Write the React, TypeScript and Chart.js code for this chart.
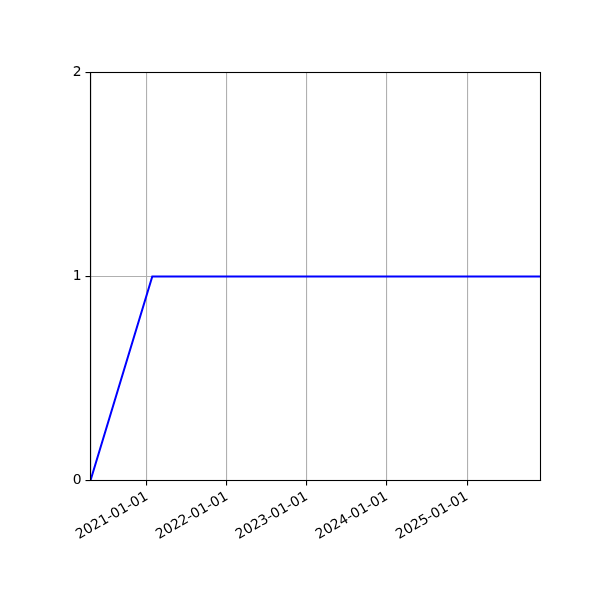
import React, { useEffect, useRef } from "react";
import { Chart, registerables } from "chart.js";

Chart.register(...registerables);

const dates = ["2020-04-18", "2021-01-25", "2025-12-02"];
const values = [0, 1, 1];
const tickYears = [2021, 2022, 2023, 2024, 2025];
const yTicks = [0, 1, 2];
const xMinDate = "2020-04-18";
const xMaxDate = "2025-12-02";

const toMs = (s: string) => Date.parse(s + "T00:00:00Z");

const framePlugin = {
  id: "frame",
  afterDraw(chart: any) {
    const { ctx, chartArea } = chart;
    ctx.save();
    ctx.strokeStyle = "#000";
    ctx.lineWidth = 1.1;
    ctx.strokeRect(chartArea.left, chartArea.top, chartArea.right - chartArea.left, chartArea.bottom - chartArea.top);
    ctx.restore();
  },
};

export default function App() {
  const ref = useRef<HTMLCanvasElement>(null);
  useEffect(() => {
    document.body.style.margin = "0";
    const font = { family: "DejaVu Sans", size: 13.9 };
    const chart = new Chart(ref.current!, {
      type: "line",
      data: {
        datasets: [
          {
            data: dates.map((d, i) => ({ x: toMs(d), y: values[i] })),
            borderColor: "#0000ff",
            borderWidth: 2,
            pointRadius: 0,
            tension: 0,
            fill: false,
          },
        ],
      },
      options: {
        animation: false,
        responsive: false,
        devicePixelRatio: 1,
        layout: { padding: { left: 0, right: 59.5, top: 72.5, bottom: 0 } },
        plugins: { legend: { display: false }, tooltip: { enabled: false } },
        scales: {
          x: {
            type: "linear",
            min: toMs(xMinDate),
            max: toMs(xMaxDate),
            afterBuildTicks: (scale: any) => {
              scale.ticks = tickYears.map((y) => ({ value: Date.UTC(y, 0, 1) }));
            },
            afterFit: (scale: any) => {
              scale.height = 119.5;
            },
            ticks: {
              autoSkip: false,
              minRotation: 30,
              maxRotation: 30,
              padding: 3,
              color: "#000",
              font,
              callback: (v: any) => new Date(Number(v)).toISOString().slice(0, 10),
            },
            grid: {
              color: "#b0b0b0",
              lineWidth: 1.1,
              tickColor: "#000",
              tickLength: 5,
              tickWidth: 1.1,
            },
            border: { color: "#000", width: 1.1 },
          },
          y: {
            type: "linear",
            min: 0,
            max: 2,
            afterBuildTicks: (scale: any) => {
              scale.ticks = yTicks.map((v) => ({ value: v }));
            },
            afterFit: (scale: any) => {
              scale.width = 90.5;
            },
            ticks: {
              padding: 4,
              color: "#000",
              font,
            },
            grid: {
              color: "#b0b0b0",
              lineWidth: 1.1,
              tickColor: "#000",
              tickLength: 5,
              tickWidth: 1.1,
            },
            border: { color: "#000", width: 1.1 },
          },
        },
      },
      plugins: [framePlugin],
    });
    return () => chart.destroy();
  }, []);
  return (
    <div style={{ width: 600, height: 600 }}>
      <canvas ref={ref} width={600} height={600} />
    </div>
  );
}
